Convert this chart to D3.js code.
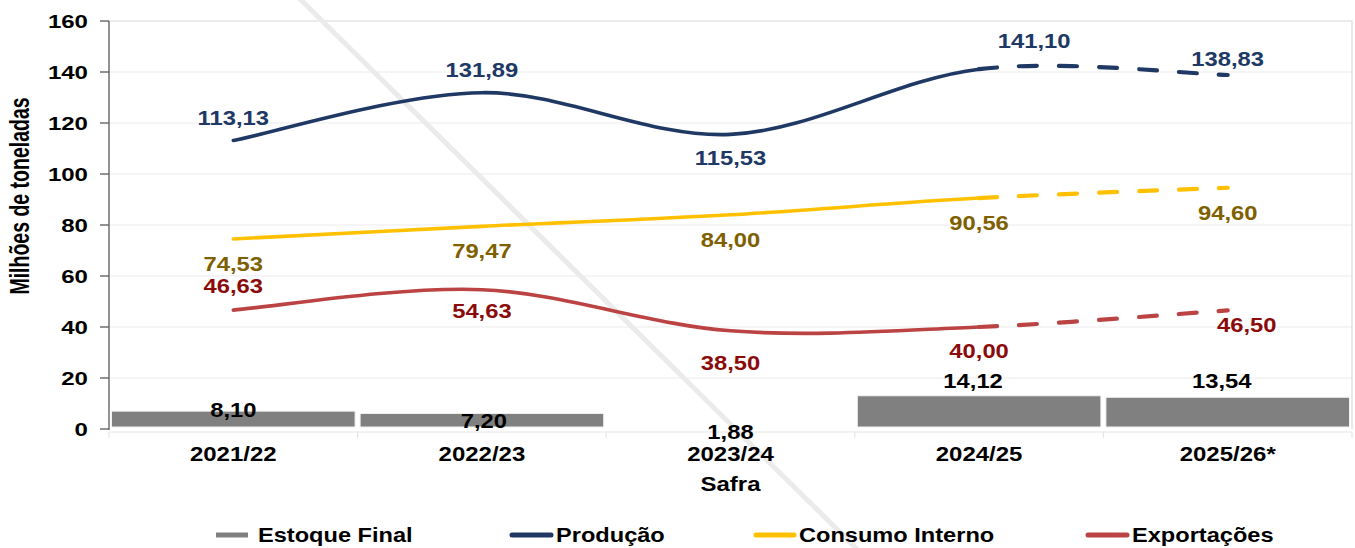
<!DOCTYPE html>
<html>
<head>
<meta charset="utf-8">
<script src="https://cdn.jsdelivr.net/npm/d3@7/dist/d3.min.js"></script>
<style>
  html, body { margin: 0; padding: 0; background: #ffffff; }
  svg { display: block; font-family: "Liberation Sans", Arial, sans-serif; font-weight: bold; }
</style>
</head>
<body>
<svg id="chart" width="1355" height="548"></svg>
<script>
// Safras (crop years)
const categories = ["2021/22", "2022/23", "2023/24", "2024/25", "2025/26*"];

// Series, millions of tonnes
const estoqueFinal   = [8.10, 7.20, 1.88, 14.12, 13.54];
const producao       = [113.13, 131.89, 115.53, 141.10, 138.83];
const consumoInterno = [74.53, 79.47, 84.00, 90.56, 94.60];
const exportacoes    = [46.63, 54.63, 38.50, 40.00, 46.50];

// Axis ticks
const yTicks = [0, 20, 40, 60, 80, 100, 120, 140, 160];

// Index of the first projected point: the segment after it is drawn dashed
const projectedFrom = 3;

const fmt = v => d3.format(".2f")(v).replace(".", ",");

const svg = d3.select("#chart");
const plot = { left: 109, right: 1352, top: 21, bottom: 429 };

const x = d3.scaleBand().domain(categories).range([plot.left, plot.right]).padding(0);
const cx = c => x(c) + x.bandwidth() / 2;
const y = d3.scaleLinear().domain([0, 160]).range([plot.bottom, plot.top]);
// stock bars sit on their own axis whose floor is the smallest stock
const stockFloor = d3.min(estoqueFinal);
const yBar = d3.scaleLinear().domain([stockFloor, stockFloor + 160]).range([plot.bottom - 2, plot.top - 2]);

// text helper: glyphs widened horizontally
function label(g, px, py, str, o) {
  return g.append("text")
    .attr("transform", `translate(${px},${py}) scale(${o.sx || 1.18},1)` + (o.rotate ? ` rotate(${o.rotate})` : ""))
    .attr("text-anchor", o.anchor || "middle")
    .attr("font-size", o.size || 20)
    .attr("fill", o.color || "#000")
    .text(str);
}

// gridlines
const grid = svg.append("g");
grid.selectAll("line").data(yTicks.filter(t => t > 0 && t < 160)).join("line")
  .attr("x1", plot.left).attr("x2", plot.right)
  .attr("y1", d => y(d)).attr("y2", d => y(d))
  .attr("stroke", "#ececec").attr("stroke-width", 1.2);
// plot frame (top and right)
grid.append("path")
  .attr("d", `M${plot.left},${y(160)}H${plot.right}V${y(0)}`)
  .attr("fill", "none").attr("stroke", "#dadada").attr("stroke-width", 1.2);

// faint diagonal stroke across the page
svg.append("line")
  .attr("x1", 298).attr("y1", -3).attr("x2", 858).attr("y2", 550)
  .attr("stroke", "#ebebeb").attr("stroke-width", 5);

// category axis (light)
const xAxisY = y(0) + 3;
const catAxis = svg.append("g");
catAxis.append("line").attr("x1", plot.left).attr("x2", plot.right)
  .attr("y1", xAxisY).attr("y2", xAxisY).attr("stroke", "#e6e6e6").attr("stroke-width", 1.2);
catAxis.selectAll("line.tk").data(categories.map(c => x(c)).concat([plot.right])).join("line")
  .attr("class", "tk")
  .attr("x1", d => d).attr("x2", d => d).attr("y1", xAxisY).attr("y2", xAxisY + 6)
  .attr("stroke", "#e6e6e6").attr("stroke-width", 1.2);

// stock bars
const barPad = 2.5;
svg.append("g").selectAll("rect").data(categories).join("rect")
  .attr("x", c => x(c) + barPad)
  .attr("width", x.bandwidth() - 2 * barPad)
  .attr("y", (c, i) => yBar(estoqueFinal[i]))
  .attr("height", (c, i) => Math.max(0, yBar(stockFloor) - yBar(estoqueFinal[i])))
  .attr("fill", "#808080")
  .attr("stroke", "#f2f2f2").attr("stroke-width", 1);

// left axis
const yAxis = svg.append("g");
yAxis.append("line").attr("x1", plot.left).attr("x2", plot.left)
  .attr("y1", y(160)).attr("y2", y(0) + 1).attr("stroke", "#595959").attr("stroke-width", 1.3);
yAxis.selectAll("line.tk").data(yTicks).join("line").attr("class", "tk")
  .attr("x1", plot.left - 9).attr("x2", plot.left)
  .attr("y1", d => y(d)).attr("y2", d => y(d))
  .attr("stroke", "#595959").attr("stroke-width", 1.3);
yTicks.forEach(t => label(yAxis, 88, y(t) + 7, String(t), { size: 18.5, sx: 1.3, anchor: "end" }));

// y title
label(svg, 29, 196, "Milhões de toneladas", { size: 19.5, sx: 1.4, rotate: -90 });

// category labels and title
categories.forEach(c => label(svg, cx(c), 461, c, { size: 20, sx: 1.2 }));
label(svg, cx(categories[2]), 491, "Safra", { size: 20, sx: 1.2 });

// smooth (cardinal) path over a range of segments, tangents from the full series
function cardinalPath(pts, i0, i1) {
  const p = d3.path();
  const P = i => pts[Math.max(0, Math.min(pts.length - 1, i))];
  p.moveTo(pts[i0][0], pts[i0][1]);
  for (let i = i0; i < i1; i++) {
    const a = P(i - 1), b = P(i), c = P(i + 1), d = P(i + 2);
    p.bezierCurveTo(
      b[0] + (c[0] - a[0]) / 6, b[1] + (c[1] - a[1]) / 6,
      c[0] - (d[0] - b[0]) / 6, c[1] - (d[1] - b[1]) / 6,
      c[0], c[1]);
  }
  return p.toString();
}

const series = [
  { name: "Produção", values: producao, color: "#1f3864", text: "#203864",
    offsets: [[0, -16], [0, -16], [0, 31], [55, -21], [0, -9]] },
  { name: "Consumo Interno", values: consumoInterno, color: "#ffc000", text: "#7f6000",
    offsets: [[0, 32], [0, 32], [0, 32], [0, 32], [0, 32]] },
  { name: "Exportações", values: exportacoes, color: "#bb4343", text: "#8b0a0a",
    offsets: [[0, -17], [0, 28], [0, 39], [0, 31], [19, 22]] }
];

const linesG = svg.append("g");
series.forEach(s => {
  const pts = s.values.map((v, i) => [cx(categories[i]), y(v)]);
  linesG.append("path")
    .attr("d", cardinalPath(pts, 0, projectedFrom))
    .attr("fill", "none").attr("stroke", s.color).attr("stroke-width", 3.6)
    .attr("stroke-linecap", "round");
  linesG.append("path")
    .attr("d", cardinalPath(pts, projectedFrom, pts.length - 1))
    .attr("fill", "none").attr("stroke", s.color).attr("stroke-width", 4.2)
    .attr("stroke-linecap", "round")
    .attr("stroke-dasharray", "18 22");
});

// value labels
const labelsG = svg.append("g");
series.forEach(s => {
  s.values.forEach((v, i) => {
    const [dx, dy] = s.offsets[i];
    label(labelsG, cx(categories[i]) + dx, y(v) + dy, fmt(v), { size: 20.5, sx: 1.16, color: s.text });
  });
});
const barLabelOffsets = [[0, 6], [2, 15], [0, 12], [-6, -8], [-6, -9]];
estoqueFinal.forEach((v, i) => {
  const [dx, dy] = barLabelOffsets[i];
  label(labelsG, cx(categories[i]) + dx, yBar(v) + dy, fmt(v), { size: 20.5, sx: 1.16, color: "#000" });
});

// legend
const legend = [
  { name: "Estoque Final", color: "#808080", cap: "butt", x0: 216, x1: 248, tx: 258 },
  { name: "Produção", color: "#1f3864", cap: "round", x0: 512, x1: 551, tx: 556 },
  { name: "Consumo Interno", color: "#ffc000", cap: "round", x0: 756, x1: 794, tx: 799 },
  { name: "Exportações", color: "#bb4343", cap: "round", x0: 1088, x1: 1127, tx: 1132 }
];
const lg = svg.append("g");
legend.forEach(l => {
  lg.append("line").attr("x1", l.x0).attr("x2", l.x1).attr("y1", 535).attr("y2", 535)
    .attr("stroke", l.color).attr("stroke-width", 5).attr("stroke-linecap", l.cap);
  label(lg, l.tx, 542, l.name, { size: 20, sx: 1.18, anchor: "start" });
});
</script>
</body>
</html>
